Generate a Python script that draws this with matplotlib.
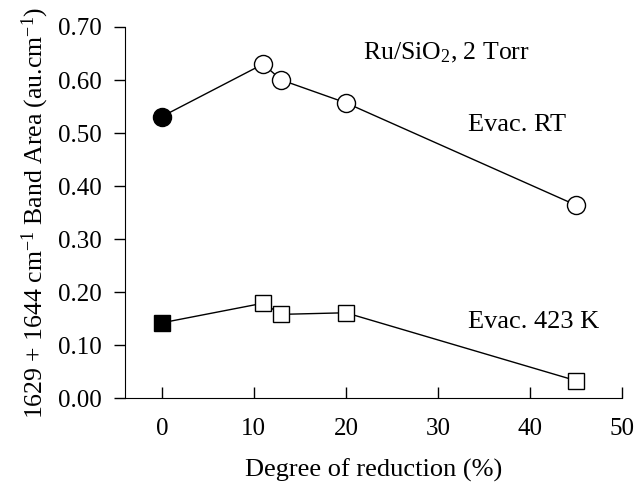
import matplotlib
matplotlib.use("Agg")
import matplotlib.pyplot as plt

plt.rcParams['font.family'] = ['Liberation Serif', 'DejaVu Serif']
plt.rcParams['mathtext.fontset'] = 'custom'
plt.rcParams['mathtext.rm'] = 'Liberation Serif'
plt.rcParams['mathtext.it'] = 'Liberation Serif:italic'

x_rt = [0, 11, 13, 20, 45]
y_rt = [0.531, 0.630, 0.600, 0.557, 0.364]
x_423 = [0, 11, 13, 20, 45]
y_423 = [0.142, 0.179, 0.158, 0.161, 0.033]

xticks = [0, 10, 20, 30, 40, 50]
yticks = [0.0, 0.1, 0.2, 0.3, 0.4, 0.5, 0.6, 0.7]

fig = plt.figure(figsize=(6.36, 4.82), dpi=100)
ax = fig.add_axes([0.1965, 0.174, 0.7815, 0.770])

ax.plot(x_rt, y_rt, color='black', lw=1.0, zorder=1)
ax.plot(x_rt[1:], y_rt[1:], 'o', ms=13, mfc='white', mec='black', mew=1.0, zorder=2)
ax.plot(x_rt[:1], y_rt[:1], 'o', ms=13, mfc='black', mec='black', mew=1.0, zorder=2)

ax.plot(x_423, y_423, color='black', lw=1.0, zorder=1)
ax.plot(x_423[1:], y_423[1:], 's', ms=11, mfc='white', mec='black', mew=1.0, zorder=2)
ax.plot(x_423[:1], y_423[:1], 's', ms=11, mfc='black', mec='black', mew=1.0, zorder=2)

ax.set_xlim(-4, 50)
ax.set_ylim(0, 0.70)
ax.set_xticks(xticks)
ax.set_yticks(yticks)
ax.set_yticklabels([f"{v:.2f}" for v in yticks])
ax.spines['top'].set_visible(False)
ax.spines['right'].set_visible(False)
ax.tick_params(axis='x', direction='in', length=8, width=1, labelsize=18, pad=14)
ax.tick_params(axis='y', direction='out', length=8, width=1, labelsize=18, pad=9)

ax.set_xlabel('Degree of reduction (%)', fontsize=19, labelpad=14)
ax.set_ylabel('1629 + 1644 cm$^{-1}$ Band Area (au.cm$^{-1}$)', fontsize=18.5, labelpad=5)

ax.text(30.9, 0.651, 'Ru/SiO$_2$, 2 Torr', fontsize=18.5, ha='center', va='center')
ax.text(33.3, 0.515, 'Evac. RT', fontsize=19, ha='left', va='center')
ax.text(33.3, 0.144, 'Evac. 423 K', fontsize=19, ha='left', va='center')

fig.savefig('out.png', dpi=100)
